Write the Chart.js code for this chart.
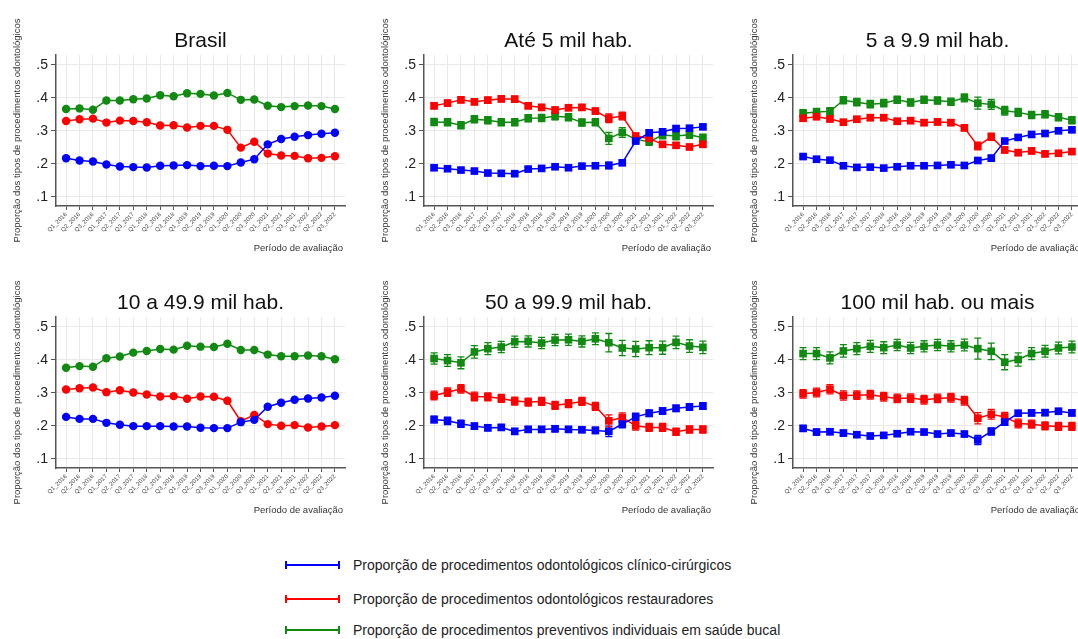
<!DOCTYPE html>
<html>
<head>
<meta charset="utf-8">
<script src="https://cdn.jsdelivr.net/npm/chart.js@4.4.1/dist/chart.umd.min.js"></script>
<style>
  body { margin: 0; background: #fff; width: 1078px; height: 639px; overflow: hidden; position: relative; font-family: "Liberation Sans", Arial, sans-serif; }
  canvas { position: absolute; }
  .leg { position: absolute; left: 285px; height: 16px; display: flex; align-items: center; }
  .sw { display: inline-block; width: 51px; height: 8px; box-sizing: content-box;
        border-left: 2px solid var(--c); border-right: 2px solid var(--c);
        background: linear-gradient(var(--c), var(--c)) center / 100% 2px no-repeat; }
  .lt { margin-left: 13px; font-size: 14px; color: #222; white-space: nowrap; }
</style>
</head>
<body>
<canvas id="p1" width="360" height="260" style="left:0px;top:0px"></canvas>
<canvas id="p2" width="360" height="260" style="left:368px;top:0px"></canvas>
<canvas id="p3" width="360" height="260" style="left:737px;top:0px"></canvas>
<canvas id="p4" width="360" height="260" style="left:0px;top:262px"></canvas>
<canvas id="p5" width="360" height="260" style="left:368px;top:262px"></canvas>
<canvas id="p6" width="360" height="260" style="left:737px;top:262px"></canvas>

<div class="leg" style="top:557px"><span class="sw" style="--c:#0000ff"></span><span class="lt">Proporção de procedimentos odontológicos clínico-cirúrgicos</span></div>
<div class="leg" style="top:591px"><span class="sw" style="--c:#ff0000"></span><span class="lt">Proporção de procedimentos odontológicos restauradores</span></div>
<div class="leg" style="top:622px"><span class="sw" style="--c:#108a10"></span><span class="lt">Proporção de procedimentos preventivos individuais em saúde bucal</span></div>

<script>
// quarters on the x axis
const labels = ['Q1_2016','Q2_2016','Q3_2016','Q1_2017','Q2_2017','Q3_2017','Q1_2018','Q2_2018','Q3_2018',
  'Q1_2019','Q2_2019','Q3_2019','Q1_2020','Q2_2020','Q3_2020','Q1_2021','Q2_2021','Q3_2021','Q1_2022','Q2_2022','Q3_2022'];
const yTickValues = [0.1, 0.2, 0.3, 0.4, 0.5];
const yTickLabels = ['.1', '.2', '.3', '.4', '.5'];

const titles = ['Brasil', 'Até 5 mil hab.', '5 a 9.9 mil hab.', '10 a 49.9 mil hab.', '50 a 99.9 mil hab.', '100 mil hab. ou mais'];
const seriesNames = [
  'Proporção de procedimentos odontológicos clínico-cirúrgicos',
  'Proporção de procedimentos odontológicos restauradores',
  'Proporção de procedimentos preventivos individuais em saúde bucal'
];
const seriesColors = ['#0000ff', '#ff0000', '#108a10'];

// Brasil
const brasilBlue  = [0.217,0.210,0.207,0.198,0.192,0.190,0.189,0.194,0.195,0.196,0.193,0.194,0.193,0.204,0.214,0.259,0.275,0.282,0.287,0.291,0.294];
const brasilRed   = [0.330,0.335,0.337,0.325,0.331,0.330,0.326,0.316,0.317,0.310,0.315,0.315,0.303,0.249,0.267,0.231,0.225,0.224,0.217,0.218,0.223];
const brasilGreen = [0.366,0.368,0.364,0.392,0.392,0.396,0.398,0.408,0.405,0.414,0.412,0.407,0.415,0.394,0.395,0.376,0.372,0.375,0.377,0.375,0.366];
const brasilErr   = [0.003,0.003,0.003];

// Até 5 mil hab.
const ate5Blue  = [0.188,0.185,0.181,0.178,0.172,0.171,0.170,0.184,0.186,0.191,0.188,0.193,0.194,0.195,0.203,0.269,0.294,0.297,0.307,0.308,0.312];
const ate5Red   = [0.376,0.384,0.394,0.388,0.393,0.397,0.396,0.376,0.371,0.363,0.370,0.371,0.360,0.338,0.345,0.284,0.277,0.259,0.256,0.251,0.259];
const ate5Green = [0.327,0.326,0.317,0.335,0.332,0.326,0.326,0.338,0.339,0.344,0.341,0.325,0.326,0.277,0.295,0.274,0.267,0.287,0.284,0.288,0.279];
const ate5BlueErr  = [0.006,0.006,0.006,0.006,0.006,0.006,0.006,0.006,0.006,0.006,0.006,0.006,0.006,0.010,0.008,0.008,0.007,0.007,0.007,0.007,0.007];
const ate5RedErr   = [0.009,0.009,0.009,0.009,0.009,0.009,0.009,0.009,0.009,0.009,0.009,0.009,0.009,0.013,0.012,0.009,0.009,0.008,0.008,0.008,0.008];
const ate5GreenErr = [0.011,0.011,0.011,0.011,0.011,0.011,0.011,0.011,0.011,0.011,0.011,0.011,0.011,0.018,0.015,0.011,0.011,0.011,0.011,0.011,0.011];

// 5 a 9.9 mil hab.
const de5Blue  = [0.222,0.214,0.211,0.194,0.189,0.190,0.187,0.191,0.194,0.194,0.195,0.197,0.195,0.210,0.217,0.269,0.280,0.289,0.292,0.300,0.303];
const de5Red   = [0.338,0.343,0.336,0.326,0.335,0.340,0.340,0.329,0.331,0.325,0.327,0.325,0.309,0.254,0.282,0.242,0.234,0.239,0.230,0.232,0.237];
const de5Green = [0.353,0.357,0.359,0.393,0.387,0.381,0.384,0.394,0.386,0.394,0.392,0.388,0.400,0.384,0.380,0.361,0.356,0.348,0.350,0.341,0.332];
const de5BlueErr  = [0.006,0.006,0.006,0.006,0.006,0.006,0.006,0.006,0.006,0.006,0.006,0.006,0.006,0.009,0.009,0.007,0.007,0.007,0.006,0.006,0.006];
const de5RedErr   = [0.009,0.009,0.009,0.009,0.009,0.009,0.009,0.009,0.009,0.009,0.009,0.009,0.009,0.012,0.011,0.009,0.009,0.009,0.008,0.008,0.008];
const de5GreenErr = [0.011,0.011,0.011,0.011,0.011,0.011,0.011,0.011,0.011,0.011,0.011,0.011,0.012,0.018,0.015,0.013,0.012,0.011,0.011,0.011,0.011];

// 10 a 49.9 mil hab.
const de10Blue  = [0.227,0.221,0.221,0.209,0.203,0.199,0.199,0.199,0.198,0.198,0.194,0.193,0.193,0.211,0.218,0.258,0.270,0.279,0.283,0.286,0.291];
const de10Red   = [0.310,0.314,0.316,0.302,0.308,0.301,0.295,0.289,0.290,0.282,0.289,0.288,0.276,0.214,0.233,0.205,0.200,0.202,0.195,0.198,0.202];
const de10Green = [0.376,0.381,0.379,0.405,0.410,0.422,0.427,0.433,0.431,0.443,0.440,0.439,0.449,0.430,0.430,0.416,0.411,0.411,0.413,0.411,0.402];
const de10Err   = [0.003,0.003,0.003];

// 50 a 99.9 mil hab.
const de50Blue  = [0.219,0.215,0.206,0.199,0.194,0.195,0.183,0.189,0.189,0.191,0.189,0.188,0.186,0.183,0.205,0.227,0.238,0.245,0.253,0.257,0.260];
const de50Red   = [0.292,0.302,0.312,0.289,0.288,0.283,0.275,0.272,0.274,0.262,0.267,0.274,0.259,0.215,0.225,0.200,0.195,0.195,0.182,0.189,0.189];
const de50Green = [0.404,0.398,0.391,0.424,0.434,0.439,0.455,0.456,0.451,0.460,0.461,0.456,0.464,0.452,0.436,0.433,0.437,0.437,0.453,0.442,0.438];
const de50BlueErr  = [0.010,0.011,0.011,0.009,0.009,0.009,0.009,0.009,0.009,0.009,0.009,0.009,0.010,0.016,0.011,0.011,0.010,0.010,0.010,0.010,0.010];
const de50RedErr   = [0.013,0.013,0.013,0.013,0.012,0.012,0.012,0.012,0.012,0.012,0.012,0.012,0.012,0.018,0.014,0.013,0.012,0.012,0.011,0.011,0.011];
const de50GreenErr = [0.017,0.018,0.018,0.019,0.018,0.017,0.017,0.017,0.017,0.017,0.017,0.017,0.018,0.028,0.023,0.023,0.021,0.020,0.019,0.019,0.019];

// 100 mil hab. ou mais
const de100Blue  = [0.192,0.181,0.182,0.178,0.173,0.169,0.171,0.176,0.182,0.181,0.175,0.178,0.175,0.157,0.183,0.211,0.238,0.239,0.240,0.244,0.239];
const de100Red   = [0.297,0.301,0.311,0.292,0.293,0.294,0.288,0.283,0.284,0.279,0.283,0.285,0.276,0.223,0.235,0.227,0.207,0.205,0.200,0.198,0.198];
const de100Green = [0.419,0.419,0.406,0.427,0.434,0.441,0.437,0.445,0.436,0.441,0.445,0.441,0.445,0.434,0.426,0.393,0.401,0.419,0.426,0.436,0.439];
const de100BlueErr  = [0.009,0.009,0.009,0.009,0.008,0.008,0.008,0.008,0.008,0.008,0.008,0.008,0.008,0.014,0.011,0.010,0.009,0.009,0.009,0.009,0.009];
const de100RedErr   = [0.013,0.013,0.014,0.014,0.013,0.013,0.013,0.013,0.013,0.013,0.013,0.013,0.013,0.017,0.015,0.014,0.013,0.012,0.012,0.012,0.012];
const de100GreenErr = [0.018,0.018,0.018,0.019,0.018,0.018,0.018,0.017,0.017,0.017,0.017,0.017,0.018,0.032,0.025,0.023,0.020,0.018,0.018,0.018,0.018];

const fontFamily = '"Liberation Sans", Arial, sans-serif';

// error bars with caps, drawn under the markers
const errorBars = {
  id: 'errorBars',
  beforeDatasetsDraw(chart) {
    const { ctx, scales: { x, y } } = chart;
    ctx.save();
    chart.data.datasets.forEach(ds => {
      ctx.strokeStyle = ds.borderColor;
      ctx.lineWidth = 1.3;
      ds.data.forEach((p, i) => {
        const e = Array.isArray(ds.err) ? ds.err[i] : ds.err;
        const px = x.getPixelForValue(p.x);
        const lo = y.getPixelForValue(p.y - e), hi = y.getPixelForValue(p.y + e);
        ctx.beginPath();
        ctx.moveTo(px, lo); ctx.lineTo(px, hi);
        ctx.moveTo(px - 3.5, lo); ctx.lineTo(px + 3.5, lo);
        ctx.moveTo(px - 3.5, hi); ctx.lineTo(px + 3.5, hi);
        ctx.stroke();
      });
    });
    ctx.restore();
  }
};

// panel title and axis titles
const panelText = {
  id: 'panelText',
  afterDraw(chart, args, opts) {
    const { ctx, chartArea: a } = chart;
    ctx.save();
    ctx.fillStyle = '#111';
    ctx.font = '21px ' + fontFamily;
    ctx.textAlign = 'center';
    ctx.textBaseline = 'middle';
    ctx.fillText(opts.title, (a.left + a.right) / 2, 41);

    ctx.fillStyle = '#333';
    ctx.font = '9.5px ' + fontFamily;
    ctx.textAlign = 'right';
    ctx.fillText('Período de avaliação', a.right - 2, 248);

    ctx.translate(17, (a.top + a.bottom) / 2);
    ctx.rotate(-Math.PI / 2);
    ctx.textAlign = 'center';
    ctx.fillText('Proporção dos tipos de procedimentos odontológicos', 0, 0);
    ctx.restore();
  }
};

function makePanel(id, title, values, errs, marker) {
  const datasets = values.map((vals, k) => ({
    label: seriesNames[k],
    data: vals.map((v, i) => ({ x: i, y: v })),
    err: errs[k],
    borderColor: seriesColors[k],
    backgroundColor: seriesColors[k],
    borderWidth: 1.5,
    pointStyle: marker,
    pointRadius: marker === 'circle' ? 4.2 : 5.4,
    pointBorderWidth: 0,
    tension: 0
  }));

  new Chart(document.getElementById(id), {
    type: 'line',
    data: { datasets },
    plugins: [errorBars, panelText],
    options: {
      responsive: false,
      animation: false,
      layout: { padding: { top: 55, right: 15, left: 0, bottom: 0 } },
      plugins: { legend: { display: false }, tooltip: { enabled: false }, panelText: { title } },
      scales: {
        x: {
          type: 'linear', min: -0.75, max: 20.75,
          afterBuildTicks: s => { s.ticks = labels.map((l, i) => ({ value: i })); },
          afterFit: s => { s.height = 54; },
          ticks: { callback: v => labels[v], font: { size: 6, family: fontFamily }, color: '#444',
                   minRotation: 45, maxRotation: 45, autoSkip: false, padding: 1 },
          grid: { color: '#e9e9e9', tickColor: '#555', tickLength: 4 },
          border: { color: '#555', width: 1.5 }
        },
        y: {
          min: 0.072, max: 0.53,
          afterBuildTicks: s => { s.ticks = yTickValues.map(v => ({ value: v })); },
          afterFit: s => { s.width = 56; },
          ticks: { callback: (v, i) => yTickLabels[i], font: { size: 14, family: fontFamily }, color: '#222', padding: 3 },
          grid: { color: '#e9e9e9', tickColor: '#555', tickLength: 5 },
          border: { color: '#555', width: 1.5 }
        }
      }
    }
  });
}

makePanel('p1', titles[0], [brasilBlue, brasilRed, brasilGreen], brasilErr, 'circle');
makePanel('p2', titles[1], [ate5Blue, ate5Red, ate5Green], [ate5BlueErr, ate5RedErr, ate5GreenErr], 'rect');
makePanel('p3', titles[2], [de5Blue, de5Red, de5Green], [de5BlueErr, de5RedErr, de5GreenErr], 'rect');
makePanel('p4', titles[3], [de10Blue, de10Red, de10Green], de10Err, 'circle');
makePanel('p5', titles[4], [de50Blue, de50Red, de50Green], [de50BlueErr, de50RedErr, de50GreenErr], 'rect');
makePanel('p6', titles[5], [de100Blue, de100Red, de100Green], [de100BlueErr, de100RedErr, de100GreenErr], 'rect');
</script>
</body>
</html>
